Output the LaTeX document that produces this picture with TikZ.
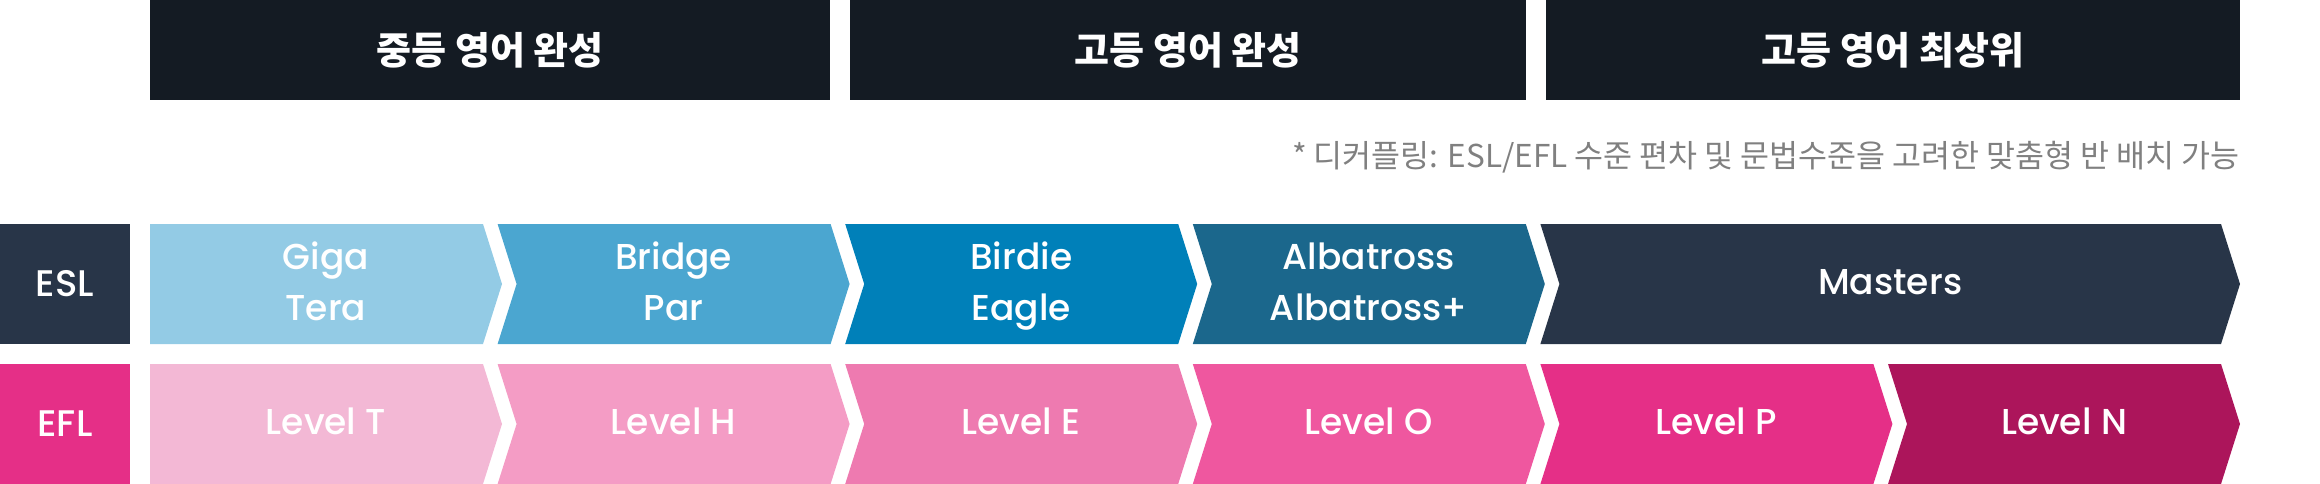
\documentclass[tikz,border=0pt]{standalone}
\usepackage{fontspec}
\setmainfont{Poppins}[UprightFont=* Medium]
\newfontfamily\kr{Noto Sans CJK KR}
\definecolor{topC}{HTML}{141B23}
\definecolor{slateC}{HTML}{283548}
\definecolor{pinkC}{HTML}{E52F87}
\definecolor{gigaC}{HTML}{93CBE5}
\definecolor{bridgeC}{HTML}{4BA6D0}
\definecolor{birdieC}{HTML}{0080B9}
\definecolor{albaC}{HTML}{1B678C}
\definecolor{lvTC}{HTML}{F3B8D5}
\definecolor{lvHC}{HTML}{F49CC5}
\definecolor{lvEC}{HTML}{EE7AB0}
\definecolor{lvOC}{HTML}{EF579F}
\definecolor{lvNC}{HTML}{AC155B}
\definecolor{noteC}{HTML}{808080}
\tikzset{
  stage/.style={fill=topC, text=white, minimum height=100, inner sep=0, font=\kr\bfseries\fontsize{38}{44}\selectfont},
  side/.style={text=white, minimum width=130, minimum height=120, inner sep=0, font=\fontsize{37}{42}\selectfont},
  lbl/.style={text=white, align=center, text depth=0pt, yshift=2.5, font=\fontsize{36}{51}\selectfont},
  remark/.style={text=noteC, inner sep=0, font=\kr\fontsize{31.5}{36}\selectfont}
}
\newcommand\chev[6]{%
  \pgfmathsetmacro\xa{150+347.6*#2}
  \pgfmathsetmacro\xn{\xa+19*min(#2,1)}
  \pgfmathsetmacro\xb{150+347.6*#3+333}
  \fill[#4] (\xa,#1) -- (\xb,#1) -- (\xb+19,#1+60) -- (\xb,#1+120) -- (\xa,#1+120) -- (\xn,#1+60) -- cycle;
  \node[lbl] (#5) at ({(\xa+\xb+19)/2},#1+60) {#6};
}
\begin{document}
\begin{tikzpicture}[x=1pt, y=-1pt]
\useasboundingbox (0,0) rectangle (2320,484);
\node[stage, minimum width=680] (middle) at (490,50) {중등 영어 완성};
\node[stage, minimum width=676] (high) at (1188,50) {고등 영어 완성};
\node[stage, minimum width=694] (top) at (1893,50) {고등 영어 최상위};
\node[remark, anchor=base east] (decouple) at (2240,167) {* 디커플링: ESL/EFL 수준 편차 및 문법수준을 고려한 맞춤형 반 배치 가능};
\node[side, fill=slateC] (esl) at (65,284) {ESL};
\node[side, fill=pinkC] (efl) at (65,424) {EFL};
\foreach \i/\j/\c/\n/\t in {0/0/gigaC/giga/{Giga\\Tera}, 1/1/bridgeC/bridge/{Bridge\\Par}, 2/2/birdieC/birdie/{Birdie\\Eagle}, 3/3/albaC/albatross/{Albatross\\Albatross+}, 4/5/slateC/masters/Masters}
  \chev{224}{\i}{\j}{\c}{\n}{\t};
\foreach \i/\c/\n in {0/lvTC/T, 1/lvHC/H, 2/lvEC/E, 3/lvOC/O, 4/pinkC/P, 5/lvNC/N}
  \chev{364}{\i}{\i}{\c}{lv\n}{Level \n};
\end{tikzpicture}
\end{document}
